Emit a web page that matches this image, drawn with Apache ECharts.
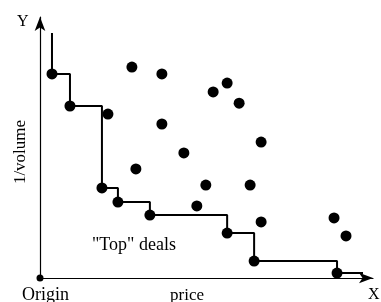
<!DOCTYPE html>
<html>
<head>
<meta charset="utf-8">
<style>
  html, body { margin: 0; padding: 0; background: #fff; }
  #chart { width: 381px; height: 302px; }
</style>
<script src="https://cdn.jsdelivr.net/npm/echarts@6/dist/echarts.min.js"></script>
</head>
<body>
<div id="chart"></div>
<script>
// "top" deals: the frontier points, [price, 1/volume]
const frontier = [
  [3.6, 78.2], [9.0, 65.9], [18.6, 34.5], [23.4, 29.1],
  [33.0, 24.1], [56.2, 17.2], [64.3, 6.5], [89.2, 1.9]
];
// the step line starts above the first deal and runs past the last
const stepStart = [3.6, 93.9];
const stepEnd = [97.0, 1.9];

// all the other deals
const otherDeals = [
  [20.4, 62.8], [27.6, 80.8], [36.6, 78.2], [36.6, 59.0],
  [52.0, 71.3], [56.2, 74.7], [59.8, 67.0], [66.4, 52.1],
  [43.2, 47.9], [28.8, 41.8], [49.8, 35.6], [63.1, 35.6],
  [47.1, 27.6], [66.4, 21.5], [88.3, 23.0], [91.9, 16.1]
];
const origin = [[0, 0]];

const serif = '"Liberation Serif", "DejaVu Serif", serif';

const myChart = echarts.init(document.getElementById('chart'));

const axisCommon = {
  type: 'value',
  min: 0,
  max: 100,
  splitLine: { show: false },
  axisTick: { show: false },
  axisLabel: { show: false },
  axisLine: {
    show: true,
    onZero: false,
    symbol: ['none', 'arrow'],
    symbolSize: [8, 14],
    lineStyle: { color: '#000', width: 1.2 }
  }
};

const dot = { color: '#000', opacity: 1 };

function label(text, left, top, size) {
  return { type: 'text', left: left, top: top, style: { text: text, font: size + 'px ' + serif, fill: '#000' } };
}

let option = {
  animation: false,
  backgroundColor: '#fff',
  grid: { left: 40, right: 8, top: 17, bottom: 24, containLabel: false, outerBoundsMode: 'none' },
  xAxis: Object.assign({}, axisCommon),
  yAxis: Object.assign({}, axisCommon),
  graphic: [
    label('Y', 17, 14, 16),
    label('X', 368, 287, 16),
    label('Origin', 22, 286, 18),
    label('price', 170, 287, 17),
    label('"Top" deals', 92, 236, 18),
    {
      type: 'text',
      x: 21,
      y: 152,
      rotation: Math.PI / 2,
      style: {
        text: '1/volume',
        font: '17px ' + serif,
        fill: '#000',
        align: 'center',
        verticalAlign: 'middle'
      }
    }
  ],
  series: [
    {
      type: 'line',
      step: 'end',
      data: [stepStart].concat(frontier, [stepEnd]),
      showSymbol: false,
      lineStyle: { color: '#000', width: 2 },
      z: 2
    },
    { type: 'scatter', data: frontier, symbolSize: 11, itemStyle: dot, z: 3 },
    { type: 'scatter', data: otherDeals, symbolSize: 11, itemStyle: dot, z: 3 },
    { type: 'scatter', data: origin, symbolSize: 7, itemStyle: dot, z: 3 }
  ]
};

myChart.setOption(option);
</script>
</body>
</html>
